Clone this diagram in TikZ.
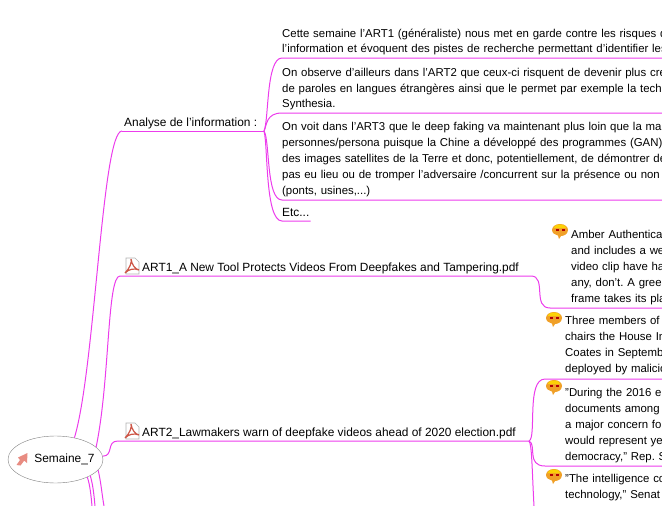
\documentclass[tikz,border=0pt]{standalone}
\usepackage{fontspec}
\setmainfont{Liberation Sans}
\usetikzlibrary{shapes.geometric}
\frenchspacing
\definecolor{linkmag}{RGB}{236,60,236}
\definecolor{bubbleor}{RGB}{240,160,40}
\definecolor{pdfred}{RGB}{205,85,70}
\definecolor{arrowred}{RGB}{232,140,130}
\tikzset{
	link/.style={draw=linkmag,line width=1pt},
	txt/.style={anchor=south west,inner xsep=0pt,inner ysep=0pt,align=left,font=\fontsize{11.9}{16}\selectfont},
	bodytxt/.style={txt,font=\fontsize{11.4}{16}\selectfont,text width=#1},
	bodytxt/.default=400pt,
	rootnode/.style={draw=gray,fill=white,ellipse,minimum width=95pt,minimum height=47pt,inner sep=0pt,font=\fontsize{11.9}{16}\selectfont},
	pdfdoc/.pic={
		\draw[gray!60,fill=white,line width=0.6pt] (-6,-8) -- (3,-8) -- (7,-4) -- (7,8) -- (-6,8) -- cycle;
		\draw[pdfred,line width=1.2pt] (-7,7) .. controls (-2,2) and (0,-4) .. (-1,-7) .. controls (0,-1) and (3,3) .. (7,4) .. controls (2,2) and (-3,3) .. (-7,7);
	},
	bubble/.pic={
		\fill[bubbleor] (0,-7) .. controls (5,-7) and (8,-4) .. (8,-1) .. controls (8,3) and (4,5) .. (1,5) -- (-1,8) -- (-2,4.6) .. controls (-5,4) and (-8,2) .. (-8,-1) .. controls (-8,-4) and (-5,-7) .. (0,-7) -- cycle;
		\fill[yellow!70!orange] (0,-6.5) .. controls (4,-6.5) and (6,-4.5) .. (6.5,-3) -- (-6.5,-3) .. controls (-6,-4.5) and (-4,-6.5) .. (0,-6.5) -- cycle;
		\fill[red!70!black] (-4.5,-2) rectangle (-1.5,-0.5);
		\fill[red!70!black] (1.5,-2) rectangle (4.5,-0.5);
	},
	uparrow/.pic={
		\fill[arrowred] (-5.5,6) -- (-2,1) -- (-4,-1.5) -- (5.5,-6) -- (5,4) -- (2.2,1.6) -- (-1.5,6.5) -- cycle;
	}
}
\begin{document}
\begin{tikzpicture}[x=1pt,y=-1pt]
	\useasboundingbox (0,0) rectangle (662,506);
	\clip (0,0) rectangle (662,506);
	\coordinate (hubana) at (264,131);
	\coordinate (d1) at (92,506);
	\coordinate (d2) at (95,506);
	\coordinate (d3) at (104,506);
	\coordinate (d4) at (534,506);
	%
	\node[txt] (ana) at (122,131) {\hspace*{2pt}Analyse de l'information :\strut};
	\node[bodytxt] (cette) at (282,58) {Cette semaine l'ART1 (généraliste) nous met en garde contre les risques d\\l'information et évoquent des pistes de recherche permettant d'identifier les\strut};
	\node[bodytxt] (observe) at (282,113) {On observe d'ailleurs dans l'ART2 que ceux-ci risquent de devenir plus cré\\de paroles en langues étrangères ainsi que le permet par exemple la techn\\Synthesia.\strut};
	\node[bodytxt,inner ysep=1pt] (voit) at (282,200) {On voit dans l'ART3 que le deep faking va maintenant plus loin que la man\\personnes/persona puisque la Chine a développé des programmes (GAN)\\des images satellites de la Terre et donc, potentiellement, de démontrer de\\pas eu lieu ou de tromper l'adversaire /concurrent sur la présence ou non d\\(ponts, usines,...)\strut};
	\node[txt] (etc) at (282,221) {Etc...\hspace*{1pt}\strut};
	\node[txt] (art1) at (120,276) {\hspace*{22pt}ART1\_A New Tool Protects Videos From Deepfakes and Tampering.pdf\hspace*{12pt}\strut};
	\node[txt] (art2) at (118,441) {\hspace*{24pt}ART2\_Lawmakers warn of deepfake videos ahead of 2020 election.pdf\hspace*{13pt}\strut};
	\node[bodytxt=160pt,inner ysep=1pt] (amber) at (550,308) {\hspace*{21pt}Amber Authentica\\\hspace*{21pt}and includes a we\\\hspace*{21pt}video clip have ha\\\hspace*{21pt}any, don't. A green\\\hspace*{21pt}frame takes its pla\strut};
	\node[bodytxt=160pt,inner ysep=2pt] (three) at (545,379) {\hspace*{20pt}Three members of\\\hspace*{20pt}chairs the House In\\\hspace*{20pt}Coates in Septemb\\\hspace*{20pt}deployed by malicio\strut};
	\node[bodytxt=160pt,inner ysep=1pt] (during) at (545,466) {\hspace*{20pt}"During the 2016 el\\\hspace*{20pt}documents among\\\hspace*{20pt}a major concern for\\\hspace*{20pt}would represent ye\\\hspace*{20pt}democracy," Rep. S\strut};
	\node[bodytxt=160pt] (intel) at (545,503) {\hspace*{20pt}"The intelligence co\\\hspace*{20pt}technology," Senat\strut};
	%
	\draw[link] (hubana) .. controls (269,120) and (266,58) .. (cette.south west) -- (cette.south east);
	\draw[link] (hubana) .. controls (267,125) and (266,113) .. (observe.south west) -- (observe.south east);
	\draw[link] (hubana) .. controls (270,140) and (266,200) .. (voit.south west) -- (voit.south east);
	\draw[link] (hubana) .. controls (268,145) and (265,221) .. (etc.south west) -- (etc.south east);
	\draw[link] (ana.south west) -- (hubana);
	\draw[link] (art1.south west) -- (art1.south east) .. controls (547,276) and (532,308) .. (amber.south west) -- (amber.south east);
	\draw[link] (art2.south west) -- (art2.south east) .. controls (537,438) and (526,379) .. (three.south west) -- (three.south east);
	\draw[link] (art2.south east) .. controls (537,444) and (526,466) .. (during.south west) -- (during.south east);
	\draw[link] (art2.south east) .. controls (532,444) and (532,470) .. (d4);
	%
	\node[rootnode] (root) at (55.5,459.5) {\makebox[0pt]{\hspace*{18pt}Semaine\_7}};
	\draw[link] (root.49) .. controls (95,370) and (102,131) .. (ana.south west);
	\draw[link] (root.17) .. controls (110,380) and (107,276) .. (art1.south west);
	\draw[link] (root.4) .. controls (114,456) and (106,441) .. (art2.south west);
	\draw[link] (root.-29) .. controls (90,485) and (91,495) .. (d1);
	\draw[link] (root.-25) .. controls (93,485) and (94,495) .. (d2);
	\draw[link] (root.-14) .. controls (101,482) and (102,495) .. (d3);
	%
	\pic at (132,266) {pdfdoc};
	\pic at (132,431) {pdfdoc};
	\pic at (560,231) {bubble};
	\pic at (554,319) {bubble};
	\pic at (554,387) {bubble};
	\pic at (554,476) {bubble};
	\pic at (22,459) {uparrow};
\end{tikzpicture}
\end{document}
